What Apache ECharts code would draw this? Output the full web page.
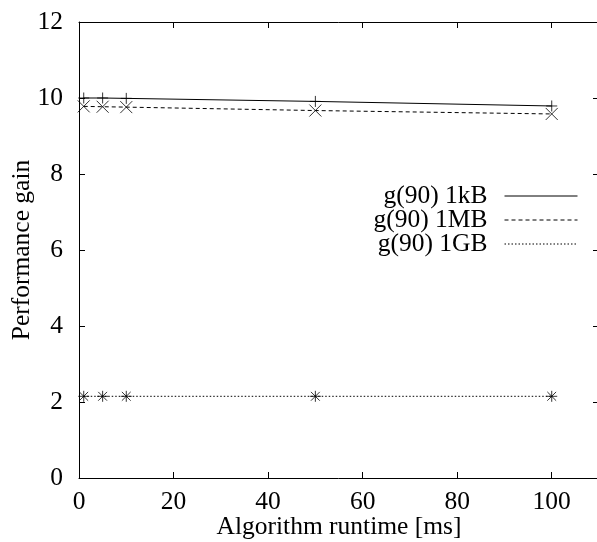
<!DOCTYPE html>
<html>
<head>
<meta charset="utf-8">
<script src="https://cdn.jsdelivr.net/npm/echarts@6/dist/echarts.min.js"></script>
<style>
  html, body { margin: 0; padding: 0; background: #fff; }
  #chart { width: 597px; height: 542px; }
</style>
</head>
<body>
<div id="chart"></div>
<script>
// Algorithm runtime in ms (x values shared by all series)
const runtimes = [1, 5, 10, 50, 100];
// Performance gain per payload size
const gain1kB = [10.0, 10.0, 9.99, 9.91, 9.79];
const gain1MB = [9.78, 9.77, 9.76, 9.67, 9.58];
const gain1GB = [2.15, 2.15, 2.15, 2.15, 2.15];
const seriesNames = ['g(90) 1kB', 'g(90) 1MB', 'g(90) 1GB'];

const FONT = 'Liberation Serif';
const FS = 25.5;

const pairs = ys => runtimes.map((x, i) => [x, ys[i]]);

// stroked marker glyphs
const PLUS = 'path://M0,5L10,5M5,0L5,10';
const CROSS = 'path://M0,0L10,10M10,0L0,10';
const STAR = 'path://M0,5L10,5M5,0L5,10M1,1L9,9M9,1L1,9';

const lineTypes = ['solid', [4, 3], [1.5, 2]];
const markers = [PLUS, CROSS, STAR];
const markerSizes = [11, 12, 11];
const values = [gain1kB, gain1MB, gain1GB];

const series = [];
values.forEach((ys, i) => {
  series.push({
    name: seriesNames[i],
    type: 'line',
    data: pairs(ys),
    showSymbol: false,
    symbol: 'none',
    silent: true,
    lineStyle: { color: '#000', width: 1, type: lineTypes[i] },
    itemStyle: { color: '#000' }
  });
  series.push({
    type: 'scatter',
    data: pairs(ys),
    symbol: markers[i],
    symbolSize: markerSizes[i],
    silent: true,
    itemStyle: { color: 'none', borderColor: '#000', borderWidth: 1 }
  });
});

const chart = echarts.init(document.getElementById('chart'), null, { renderer: 'canvas' });

const axisLineStyle = { show: true, onZero: false, lineStyle: { color: '#000', width: 1 } };
const tickStyle = { show: true, inside: true, length: 6, lineStyle: { color: '#000', width: 1 } };

chart.setOption({
  animation: false,
  backgroundColor: '#fff',
  grid: { left: 79, right: -2, top: 22, bottom: 64, outerBoundsMode: 'none', containLabel: false },
  legend: {
    data: seriesNames.map(n => ({ name: n })),
    orient: 'vertical',
    align: 'right',
    right: 19,
    top: 183,
    padding: 0,
    itemWidth: 73,
    itemHeight: 25,
    itemGap: -2,
    selectedMode: false,
    itemStyle: { opacity: 0 },
    lineStyle: { width: 1, color: '#000' },
    textStyle: { fontFamily: FONT, fontSize: FS, color: '#000', padding: [0, 12, 0, 0], lineHeight: 25 }
  },
  xAxis: [{
    type: 'value',
    min: 0, max: 110, interval: 20,
    name: 'Algorithm runtime [ms]',
    nameLocation: 'middle',
    nameGap: 36,
    nameMoveOverlap: false,
    nameTextStyle: { fontFamily: FONT, fontSize: FS, color: '#000' },
    axisLine: axisLineStyle,
    axisTick: tickStyle,
    splitLine: { show: false },
    axisLabel: { fontFamily: FONT, fontSize: FS, color: '#000', margin: 11, showMaxLabel: false }
  }, {
    type: 'value', position: 'top',
    min: 0, max: 110, interval: 20,
    axisLine: axisLineStyle,
    axisTick: tickStyle,
    axisLabel: { show: false },
    splitLine: { show: false }
  }],
  yAxis: [{
    type: 'value',
    min: 0, max: 12, interval: 2,
    name: 'Performance gain',
    nameLocation: 'middle',
    nameGap: 44,
    nameMoveOverlap: false,
    nameTextStyle: { fontFamily: FONT, fontSize: FS, color: '#000' },
    axisLine: axisLineStyle,
    axisTick: tickStyle,
    splitLine: { show: false },
    axisLabel: { fontFamily: FONT, fontSize: FS, color: '#000', margin: 16 }
  }, {
    type: 'value', position: 'right',
    min: 0, max: 12, interval: 2,
    axisLine: axisLineStyle,
    axisTick: tickStyle,
    axisLabel: { show: false },
    splitLine: { show: false }
  }],
  series: series
});
</script>
</body>
</html>
